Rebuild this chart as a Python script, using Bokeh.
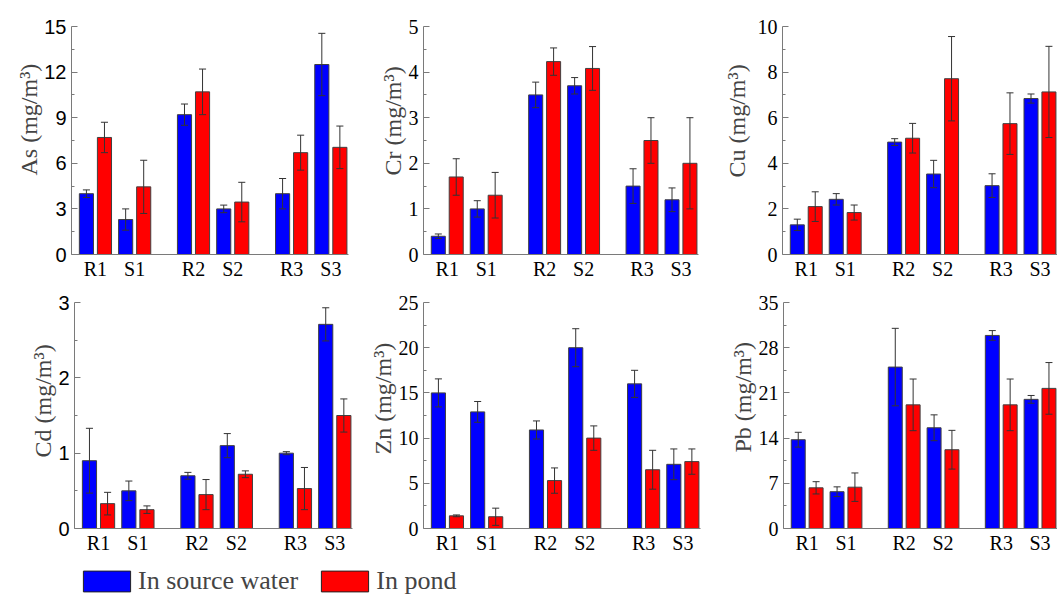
from bokeh.plotting import figure
from bokeh.models import FixedTicker, Title, Legend, LegendItem, Range1d
from bokeh.layouts import row, column
from bokeh.embed import file_html
from bokeh.resources import INLINE

sites = ["R1", "S1", "R2", "S2", "R3", "S3"]
site_pos = [0, 1, 2.5, 3.5, 5, 6]

as_source = [4.0, 2.3, 9.2, 3.0, 4.0, 12.5]
as_source_err = [0.25, 0.7, 0.7, 0.25, 1.0, 2.05]
as_pond = [7.7, 4.45, 10.7, 3.45, 6.7, 7.05]
as_pond_err = [1.0, 1.75, 1.5, 1.3, 1.15, 1.4]

cr_source = [0.4, 1.0, 3.5, 3.7, 1.5, 1.2]
cr_source_err = [0.05, 0.18, 0.28, 0.18, 0.38, 0.26]
cr_pond = [1.7, 1.3, 4.23, 4.08, 2.5, 2.0]
cr_pond_err = [0.4, 0.5, 0.3, 0.48, 0.5, 1.0]

cu_source = [1.3, 2.42, 4.93, 3.53, 3.02, 6.84]
cu_source_err = [0.25, 0.25, 0.15, 0.6, 0.52, 0.2]
cu_pond = [2.1, 1.84, 5.1, 7.71, 5.74, 7.13]
cu_pond_err = [0.65, 0.33, 0.65, 1.85, 1.35, 2.0]

cd_source = [0.9, 0.5, 0.7, 1.1, 1.0, 2.71]
cd_source_err = [0.43, 0.13, 0.045, 0.16, 0.02, 0.22]
cd_pond = [0.33, 0.25, 0.45, 0.72, 0.53, 1.5]
cd_pond_err = [0.15, 0.05, 0.2, 0.045, 0.28, 0.22]

zn_source = [15.0, 12.9, 10.9, 20.0, 16.0, 7.1]
zn_source_err = [1.55, 1.15, 1.0, 2.1, 1.5, 1.7]
zn_pond = [1.4, 1.3, 5.3, 10.0, 6.5, 7.4]
zn_pond_err = [0.1, 0.95, 1.4, 1.35, 2.15, 1.4]

pb_source = [13.75, 5.7, 25.0, 15.6, 29.9, 20.0]
pb_source_err = [1.15, 0.75, 6.0, 2.0, 0.75, 0.6]
pb_pond = [6.3, 6.4, 19.15, 12.2, 19.15, 21.7]
pb_pond_err = [0.95, 2.2, 4.0, 3.0, 4.0, 4.0]

legend_labels = ["In source water", "In pond"]

BLUE = "#0000ff"
RED = "#ff0000"
EDGE = "#404040"
AXIS = "#7a7a7a"
SERIF = "Liberation Serif"
SANS = "Liberation Sans"

OFF = 0.23
BAR_W = 0.36
CAP = 0.09


def errorbars(p, xs, vals, errs):
    lo = [v - e for v, e in zip(vals, errs)]
    hi = [v + e for v, e in zip(vals, errs)]
    p.segment(x0=xs, y0=lo, x1=xs, y1=hi, line_color="#333333", line_width=1)
    xl = [x - CAP for x in xs]
    xr = [x + CAP for x in xs]
    p.segment(x0=xl, y0=hi, x1=xr, y1=hi, line_color="#333333", line_width=1)
    p.segment(x0=xl, y0=lo, x1=xr, y1=lo, line_color="#333333", line_width=1)


def panel(src, src_err, pond, pond_err, ymax, step, label, tick_font,
          width, height, bl, br, bt, bb, label_offset, label_standoff):
    p = figure(width=width, height=height, x_range=Range1d(-0.61, 6.45),
               y_range=Range1d(0, ymax), output_backend="svg",
               toolbar_location=None, min_border_left=bl, min_border_right=br,
               min_border_top=bt, min_border_bottom=bb)
    xb = [x - OFF for x in site_pos]
    xr = [x + OFF for x in site_pos]
    p.vbar(x=xb, top=src, width=BAR_W, bottom=0, fill_color=BLUE,
           line_color=EDGE, line_width=1)
    p.vbar(x=xr, top=pond, width=BAR_W, bottom=0, fill_color=RED,
           line_color=EDGE, line_width=1)
    errorbars(p, xb, src, src_err)
    errorbars(p, xr, pond, pond_err)

    n = int(round(ymax / step))
    ticks = [step * i for i in range(n + 1)]
    minor = [step * (i + 0.5) for i in range(n)]
    p.yaxis.ticker = FixedTicker(ticks=ticks, minor_ticks=minor)
    p.yaxis.major_tick_in = 6
    p.yaxis.major_tick_out = 0
    p.yaxis.minor_tick_in = 3
    p.yaxis.minor_tick_out = 0
    p.yaxis.major_label_text_font = tick_font
    p.yaxis.major_label_text_font_size = "20px"
    p.yaxis.major_label_standoff = 5

    p.xaxis.ticker = FixedTicker(ticks=site_pos)
    p.xaxis.major_label_overrides = {float(x): s for x, s in zip(site_pos, sites)}
    p.xaxis.major_tick_in = 0
    p.xaxis.major_tick_out = 0
    p.xaxis.major_label_text_font = SERIF
    p.xaxis.major_label_text_font_size = "20px"
    p.xaxis.major_label_standoff = 3

    for ax in (p.xaxis, p.yaxis):
        ax.axis_line_color = AXIS
        ax.major_tick_line_color = AXIS
        ax.minor_tick_line_color = AXIS
        ax.major_label_text_color = "black"
    p.xaxis.minor_tick_line_color = None

    p.xgrid.visible = False
    p.ygrid.visible = False
    p.outline_line_color = None

    t = Title(text=label, align="left", offset=label_offset,
              text_font=SERIF, text_font_size="24px",
              text_font_style="normal", standoff=label_standoff)
    p.add_layout(t, "left")
    return p


p_as = panel(as_source, as_source_err, as_pond, as_pond_err, 15, 3,
             "As (mg/m³)", SANS, 360, 284, 71, 12, 25, 30, 79, 0)
p_cr = panel(cr_source, cr_source_err, cr_pond, cr_pond_err, 5, 1,
             "Cr (mg/m³)", SERIF, 352, 284, 63, 14, 25, 30, 79, 0)
p_cu = panel(cu_source, cu_source_err, cu_pond, cu_pond_err, 10, 2,
             "Cu (mg/m³)", SERIF, 345, 284, 70, 0, 26, 29, 77, 10)
p_cd = panel(cd_source, cd_source_err, cd_pond, cd_pond_err, 3, 1,
             "Cd (mg/m³)", SANS, 360, 276, 74, 8, 15, 32, 71, 0)
p_zn = panel(zn_source, zn_source_err, zn_pond, zn_pond_err, 25, 5,
             "Zn (mg/m³)", SERIF, 352, 276, 63, 12, 18, 29, 74, 0)
p_pb = panel(pb_source, pb_source_err, pb_pond, pb_pond_err, 35, 7,
             "Pb (mg/m³)", SERIF, 345, 276, 71, 0, 18, 29, 76, 0)

leg = figure(width=1057, height=38, x_range=Range1d(0, 1), y_range=Range1d(0, 1),
             output_backend="svg", toolbar_location=None, min_border=0)
leg.axis.visible = False
leg.xgrid.visible = False
leg.ygrid.visible = False
leg.outline_line_color = None
# off-screen stand-ins that only feed the legend swatches
r1 = leg.vbar(x=[5], top=[1], width=0.1, fill_color=BLUE, line_color="#222222")
r2 = leg.vbar(x=[5], top=[1], width=0.1, fill_color=RED, line_color="#222222")
legend = Legend(items=[LegendItem(label=legend_labels[0], renderers=[r1]),
                       LegendItem(label=legend_labels[1], renderers=[r2])],
                orientation="horizontal", location=(77, 2),
                glyph_width=59, glyph_height=26, label_standoff=2, spacing=17,
                padding=0, margin=0, border_line_color=None,
                background_fill_alpha=0, label_text_font=SERIF,
                label_text_font_size="26px", label_height=26)
leg.add_layout(legend, "center")

layout = column(row(p_as, p_cr, p_cu), row(p_cd, p_zn, p_pb), leg)

open("out.html", "w").write(file_html(layout, INLINE))
